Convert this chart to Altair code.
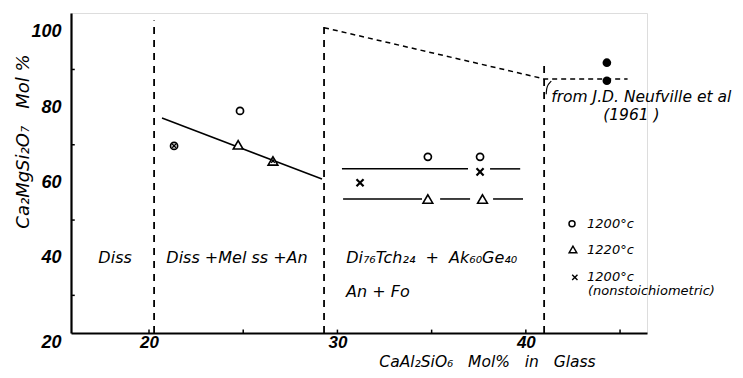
import altair as alt
import pandas as pd

# ---------------- data ----------------
# open circles: 1200 C
c1200_x = [21.33, 24.83, 34.8, 37.57]
c1200_y = [69.7, 79.0, 66.8, 66.8]
# open triangles: 1220 C
t1220_x = [24.73, 26.58, 34.8, 37.7]
t1220_y = [70.0, 65.7, 55.6, 55.6]
# crosses: 1200 C nonstoichiometric
xns_x = [21.33, 26.58, 31.2, 37.57]
xns_y = [69.7, 65.7, 59.9, 62.8]
# filled circles: J.D. Neufville et al (1961)
neuf_x = [44.3, 44.3]
neuf_y = [91.8, 87.0]
# phase boundaries (dashed verticals)
bound_x = [20.27, 29.29, 40.97]
bound_top = [103.0, 102.4, 91.2]
# solid trend line in Diss+Melss+An field
trend_x = [20.69, 29.18]
trend_y = [77.1, 60.9]
# horizontal lines in Di76Tch24 + Ak60Ge40 field
upper_y = 63.6
upper_x0 = [30.24, 38.1]
upper_x1 = [36.93, 39.7]
lower_y = 55.6
lower_x0 = [30.3, 35.45, 38.26]
lower_x1 = [34.49, 37.04, 39.85]
# dashed Neufville line
neufline_x = [29.29, 40.97, 45.4]
neufline_y = [101.1, 87.5, 87.5]
# axis ticks
x_labels = [20, 30, 40]
x_ticks = [20, 25, 30, 35, 40, 45]
y_labels = [20, 40, 60, 80, 100]
y_minor = [30, 50, 70, 90]

XDOM = [15.86, 46.43]
YDOM = [20, 105]
FONT = "Liberation Sans"
TFONT = "DejaVu Sans"
SP = "\u00a0"

xs = alt.Scale(domain=XDOM, nice=False, zero=False)
ys = alt.Scale(domain=YDOM, nice=False, zero=False)

x_axis = alt.Axis(
    values=x_labels, tickSize=0, grid=False, domainColor="black", domainWidth=2,
    labelFont=FONT, labelFontSize=17, labelFontStyle="italic", labelFontWeight="bold",
    labelColor="black", labelPadding=1,
    title=f"CaAl\u2082SiO\u2086{SP*3}Mol%{SP*3}in{SP*3}Glass", titleFont=TFONT, titleFontSize=15.5,
    titleFontStyle="italic", titleFontWeight="normal", titleColor="black",
    titleX=416, titleY=28, titleAlign="center", titleBaseline="middle",
)
y_axis = alt.Axis(
    values=y_labels, tickSize=0, grid=False, domainColor="black", domainWidth=2.2,
    labelFont=FONT, labelFontSize=18, labelFontStyle="italic", labelFontWeight="bold",
    labelColor="black", labelPadding=10,
    labelOffset={"condition": {"test": "datum.value == 20", "value": 9}, "value": 0},
    title=f"Ca\u2082MgSi\u2082O\u2087{SP*3}Mol{SP}%", titleFont=TFONT, titleFontSize=18,
    titleFontStyle="italic", titleFontWeight="normal", titleColor="black",
    titleX=-48, titleY=128, titleAngle=270, titleAlign="center", titleBaseline="middle",
)


def X(f="x"):
    return alt.X(f"{f}:Q", scale=xs, axis=x_axis)


def Y(f="y"):
    return alt.Y(f"{f}:Q", scale=ys, axis=y_axis)


XPATH = "M -1 -1 L 1 1 M 1 -1 L -1 1"

# ---------------- tables ----------------
circ = pd.DataFrame({"x": c1200_x, "y": c1200_y})
tri = pd.DataFrame({"x": t1220_x, "y": t1220_y})
crs = pd.DataFrame({"x": xns_x, "y": xns_y})
pairs_c = set(zip(c1200_x, c1200_y)) | set(zip(t1220_x, t1220_y))
crs["inner"] = [(a, b) in pairs_c for a, b in zip(xns_x, xns_y)]
crs_alone = crs[~crs["inner"]]
crs_inner = crs[crs["inner"]]
neuf = pd.DataFrame({"x": neuf_x, "y": neuf_y})
bounds = pd.DataFrame({"x": bound_x, "y": [YDOM[0]] * 3, "y2": bound_top})
trend = pd.DataFrame({"x": trend_x, "y": trend_y})
up = pd.DataFrame({"x": upper_x0, "x2": upper_x1, "y": [upper_y] * len(upper_x0)})
lo = pd.DataFrame({"x": lower_x0, "x2": lower_x1, "y": [lower_y] * len(lower_x0)})
nline = pd.DataFrame({"x": neufline_x, "y": neufline_y})
xt = pd.DataFrame({"x": x_ticks, "y": [20] * len(x_ticks), "y2": [20.9] * len(x_ticks)})
yt = pd.DataFrame({"y": y_minor, "x": [XDOM[0]] * 4, "x2": [XDOM[0] + 0.2] * 4})

regions = pd.DataFrame({
    "x": [18.2, 24.67, 35.0, 32.15],
    "y": [40, 40, 40, 30.9],
    "t": ["Diss", f"Diss{SP}+Mel{SP}ss{SP}+An",
          f"Di\u2087\u2086Tch\u2082\u2084{SP*2}+{SP*2}Ak\u2086\u2080Ge\u2084\u2080", f"An{SP}+{SP}Fo"],
})
legend_txt = pd.DataFrame({
    "x": [43.25, 43.25, 43.25, 43.3],
    "y": [49.0, 42.06, 34.75, 31.15],
    "t": ["1200\u00b0c", "1220\u00b0c", "1200\u00b0c", "(nonstoichiometric)"],
})
leg_c = pd.DataFrame({"x": [42.45], "y": [49.0]})
leg_t = pd.DataFrame({"x": [42.5], "y": [42.2]})
leg_x = pd.DataFrame({"x": [42.6], "y": [34.75]})
src_txt = pd.DataFrame({
    "x": [41.35, 45.6],
    "y": [82.8, 77.9],
    "t": ["from J.D. Neufville et al", "(1961 )"],
    "a": ["left", "center"],
})
arrow = pd.DataFrame({"x": [41.08, 41.1, 41.35], "y": [83.4, 85.6, 86.9], "o": [0, 1, 2]})

# ---------------- layers ----------------
L = []
L.append(alt.Chart(bounds).mark_rule(color="black", strokeWidth=1.8, strokeDash=[7, 6])
         .encode(x=X(), y=Y(), y2="y2"))
L.append(alt.Chart(nline).mark_line(color="black", strokeWidth=1.5, strokeDash=[5, 4])
         .encode(x=X(), y=Y()))
L.append(alt.Chart(trend).mark_line(color="black", strokeWidth=1.5).encode(x=X(), y=Y()))
L.append(alt.Chart(up).mark_rule(color="black", strokeWidth=1.5).encode(x=X(), x2="x2", y=Y()))
L.append(alt.Chart(lo).mark_rule(color="black", strokeWidth=1.5).encode(x=X(), x2="x2", y=Y()))
L.append(alt.Chart(xt).mark_rule(color="black", strokeWidth=1.5).encode(x=X(), y=Y(), y2="y2"))
L.append(alt.Chart(yt).mark_rule(color="black", strokeWidth=1.5).encode(y=Y(), x=X(), x2="x2"))

L.append(alt.Chart(tri).mark_point(shape="triangle-up", size=95, filled=True, fill="white",
                                   stroke="black", strokeWidth=1.6, opacity=1)
         .encode(x=X(), y=Y()))
L.append(alt.Chart(circ).mark_point(shape="circle", size=50, filled=True, fill="white",
                                    stroke="black", strokeWidth=1.7, opacity=1)
         .encode(x=X(), y=Y()))
L.append(alt.Chart(crs_alone).mark_point(shape=XPATH, size=50, filled=False,
                                         stroke="black", strokeWidth=2.2, opacity=1)
         .encode(x=X(), y=Y()))
L.append(alt.Chart(crs_inner).mark_point(shape=XPATH, size=14, filled=False,
                                         stroke="black", strokeWidth=1.4, opacity=1)
         .encode(x=X(), y=Y()))
L.append(alt.Chart(neuf).mark_point(shape="circle", size=75, filled=True, color="black", opacity=1)
         .encode(x=X(), y=Y()))

# legend
L.append(alt.Chart(leg_c).mark_point(shape="circle", size=36, filled=False, stroke="black",
                                     strokeWidth=1.5, opacity=1).encode(x=X(), y=Y()))
L.append(alt.Chart(leg_t).mark_point(shape="triangle-up", size=60, filled=False, stroke="black",
                                     strokeWidth=1.4, opacity=1).encode(x=X(), y=Y()))
L.append(alt.Chart(leg_x).mark_point(shape=XPATH, size=28, filled=False, stroke="black",
                                     strokeWidth=1.4, opacity=1).encode(x=X(), y=Y()))
L.append(alt.Chart(legend_txt).mark_text(font=TFONT, fontSize=13, fontStyle="italic",
                                         align="left", baseline="middle", color="black")
         .encode(x=X(), y=Y(), text="t:N"))

# region labels
L.append(alt.Chart(regions).mark_text(font=TFONT, fontSize=16, fontStyle="italic",
                                      align="center", baseline="middle", color="black")
         .encode(x=X(), y=Y(), text="t:N"))

# source note
L.append(alt.Chart(src_txt[src_txt.a == "left"]).mark_text(font=TFONT, fontSize=15.5, fontStyle="italic",
                                                          align="left", baseline="middle", color="black")
         .encode(x=X(), y=Y(), text="t:N"))
L.append(alt.Chart(src_txt[src_txt.a == "center"]).mark_text(font=TFONT, fontSize=15.5, fontStyle="italic",
                                                            align="center", baseline="middle", color="black")
         .encode(x=X(), y=Y(), text="t:N"))
L.append(alt.Chart(arrow).mark_line(color="black", strokeWidth=1.2, interpolate="basis")
         .encode(x=X(), y=Y(), order="o:Q"))

chart = alt.layer(*L).properties(
    width=576, height=320,
    autosize=alt.AutoSizeParams(type="none"),
    padding={"left": 63, "top": 5, "right": 88, "bottom": 37},
).configure_view(stroke=None).configure(background="white")

chart.save("out.html", embed_options={"renderer": "svg", "actions": False})
